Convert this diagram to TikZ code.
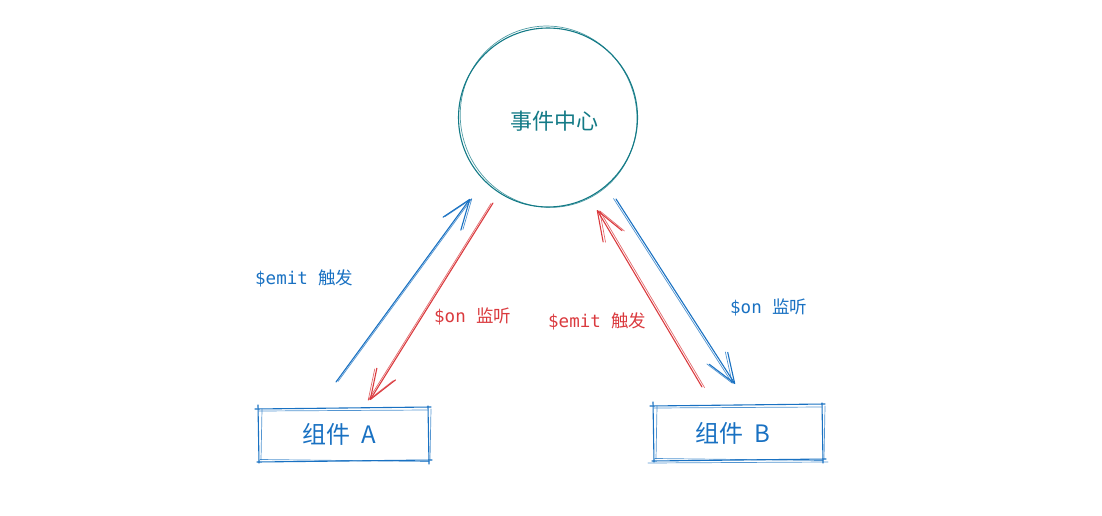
\documentclass[tikz,border=0pt]{standalone}
\usepackage{fontspec}
\newfontfamily\cjk{Noto Sans CJK SC}
\newfontfamily\mono{DejaVu Sans Mono}
\usetikzlibrary{arrows.meta}
\definecolor{skblue}{HTML}{1971C2}
\definecolor{skred}{HTML}{DA3A3E}
\definecolor{skteal}{HTML}{137A86}
\tikzset{
  stroke/.style={line width=1.1pt, line cap=round, line join=round},
  thinstroke/.style={line width=0.7pt, line cap=round, line join=round, opacity=0.75},
  arr/.style={-{Straight Barb[length=30pt,width=22pt,round]}},
  lbl/.style={anchor=west, inner sep=0pt, font=\fontsize{17.5}{20}\selectfont},
  boxlabel/.style={font=\cjk\fontsize{24}{27}\selectfont, text=skblue, minimum width=172pt, minimum height=54pt, inner sep=0pt},
}
\newcommand{\sketchrect}[5]{%
  \draw[stroke,#5] (#1-3,#2+1) -- (#3+2,#2-1);
  \draw[thinstroke,#5] (#1+1,#2+3) -- (#3-1,#2+2);
  \draw[stroke,#5] (#1-1,#4+1) -- (#3+3,#4-1);
  \draw[thinstroke,#5] (#1+2,#4-1.5) -- (#3,#4+0.5);
  \draw[stroke,#5] (#1,#2-3) -- (#1+1,#4+2);
  \draw[thinstroke,#5] (#1+4,#2+1) -- (#1+3,#4-1);
  \draw[stroke,#5] (#3-1,#2-2) -- (#3,#4+3);
  \draw[thinstroke,#5] (#3+2,#2+1) -- (#3+1,#4-1);
}
\begin{document}
\begin{tikzpicture}[x=1pt,y=-1pt]
\useasboundingbox (0,0) rectangle (1102,516);
% hub
\node[circle, minimum size=178pt, inner sep=0pt, draw=none] (hub) at (548,118) {};
\node[inner sep=0pt, text=skteal, font=\cjk\fontsize{22}{26}\selectfont] (hubtext) at (554,121) {事件中心};
\draw[stroke, skteal] (548,117.5) ellipse [x radius=89.5pt, y radius=89.5pt];
\draw[thinstroke, skteal, rotate around={20:(548,118)}] (549,117) ellipse [x radius=88pt, y radius=91pt];
% boxes
\node[boxlabel] (A) at (339.5,434.5) {组件\ \ A};
\sketchrect{258}{408}{429}{461}{skblue}
\node[boxlabel] (B) at (732.5,433) {组件\ \ B};
\sketchrect{653}{405}{823}{460}{skblue}
\draw[thinstroke, skblue] (648,463) -- (828,462);
% arrow end points
\coordinate (a1s) at (336,382);
\coordinate (a1e) at (470,199);
\coordinate (a2s) at (493,203);
\coordinate (a2e) at (370,400);
\coordinate (a3s) at (702,387);
\coordinate (a3e) at (597,210);
\coordinate (a4s) at (616,199);
\coordinate (a4e) at (735,384);
% arrows
\draw[stroke, skblue, arr] (a1s) -- (a1e);
\draw[thinstroke, skblue, arr, transform canvas={xshift=2pt,yshift=0.5pt}] (a1s) -- (a1e);
\draw[stroke, skred, arr] (a2s) -- (a2e);
\draw[thinstroke, skred, arr, transform canvas={xshift=-2pt,yshift=-0.5pt}] (a2s) -- (a2e);
\draw[stroke, skred, arr] (a3s) -- (a3e);
\draw[thinstroke, skred, arr, transform canvas={xshift=2.5pt,yshift=-0.5pt}] (a3s) -- (a3e);
\draw[stroke, skblue, arr] (a4s) -- (a4e);
\draw[thinstroke, skblue, arr, transform canvas={xshift=-2.5pt,yshift=0.5pt}] (a4s) -- (a4e);
% labels
\node[lbl, text=skblue] (l1) at (255,278) {{\mono\$emit }{\cjk 触发}};
\node[lbl, text=skred] (l2) at (434,316) {{\mono\$on }{\cjk 监听}};
\node[lbl, text=skred] (l3) at (548,321) {{\mono\$emit }{\cjk 触发}};
\node[lbl, text=skblue] (l4) at (730,307) {{\mono\$on }{\cjk 监听}};
\end{tikzpicture}
\end{document}
